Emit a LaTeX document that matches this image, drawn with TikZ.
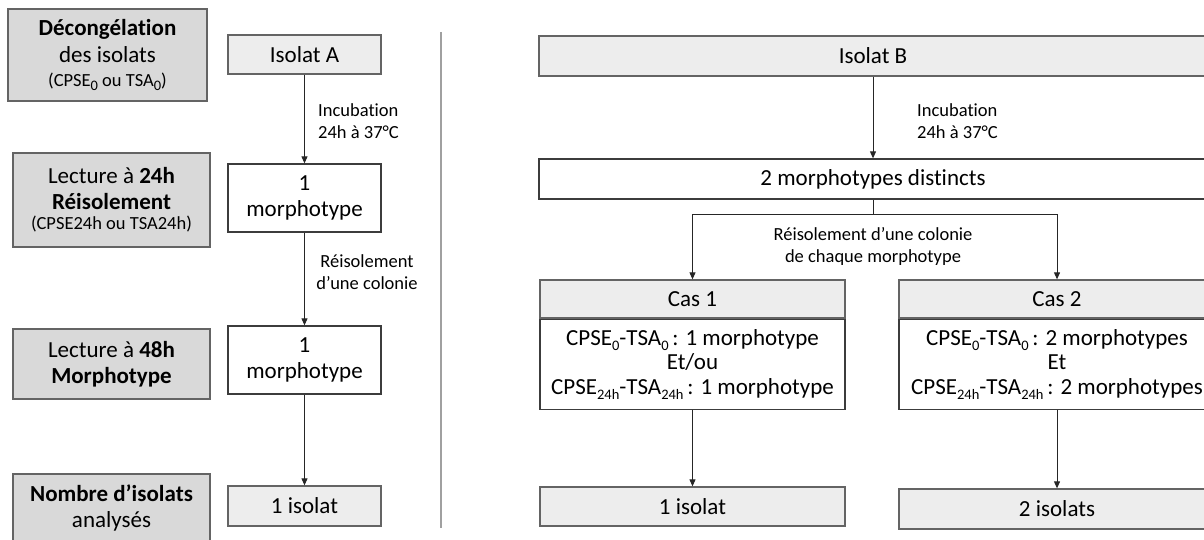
\documentclass[tikz,border=0pt]{standalone}
\usepackage{fontspec}
\setmainfont{Carlito}[Ligatures=NoCommon]
\usepackage{tikz}
\usetikzlibrary{arrows.meta,positioning}
\usepackage{xcolor}
\definecolor{stagegray}{RGB}{217,217,217}
\definecolor{boxlight}{RGB}{237,237,237}
\definecolor{edgegray}{RGB}{100,100,100}
\definecolor{edgedark}{RGB}{60,60,60}
\definecolor{rulegray}{RGB}{160,160,160}
\newcommand{\mainsize}{\fontsize{23}{26}\selectfont}
\newcommand{\notesize}{\fontsize{18.5}{22}\selectfont}
\newcommand{\lowtxt}[1]{\raisebox{-0.22em}{\fontsize{14.5}{15}\selectfont #1}}
\tikzstyle{stage} = [rectangle, minimum width=197pt, text centered, align=center, inner sep=0pt, draw=edgegray, fill=stagegray, line width=1.3pt, font=\mainsize]
\tikzstyle{result} = [rectangle, minimum height=39pt, text centered, align=center, inner sep=0pt, draw=edgegray, fill=boxlight, line width=1.3pt, font=\mainsize]
\tikzstyle{plain} = [rectangle, text centered, align=center, inner sep=0pt, draw=edgedark, fill=white, line width=1.3pt, font=\mainsize]
\tikzstyle{arrow} = [line width=1pt, ->, >={Triangle[length=7pt,width=6pt]}, draw=black!85]
\tikzstyle{note} = [inner sep=0pt, align=left, font=\notesize]

\begin{document}
\begin{tikzpicture}[x=1pt, y=-1pt]
\useasboundingbox (0,0) rectangle (1204,540);
\clip (0,0) rectangle (1204,540);

% Steps column
\node[stage, minimum width=199pt, minimum height=92pt] (thaw) at (107.5,55) {
\textbf{Décongélation}\\[1pt]
des isolats\\[-2pt]
{\notesize (CPSE\lowtxt{0} ou TSA\lowtxt{0})}
};
\node[stage, minimum height=94pt] (read24) at (111.5,200) {
Lecture à \textbf{24h}\\
\textbf{Réisolement}\\[-6pt]
{\notesize (CPSE24h ou TSA24h)}
};
\node[stage, minimum height=70pt] (read48) at (111.5,364) {
Lecture à \textbf{48h}\\
\textbf{Morphotype}
};
\node[stage, minimum height=67pt] (count) at (111.5,507.5) {
\textbf{Nombre d’isolats}\\
analysés
};

% Isolat A
\node[result, minimum width=153pt] (isoA) at (304.5,54.5) {Isolat A};
\node[plain, minimum width=153pt, minimum height=68pt] (morphA1) at (304.5,198) {1\\morphotype};
\node[plain, minimum width=153pt, minimum height=68pt] (morphA2) at (304.5,360) {1\\morphotype};
\node[result, minimum width=153pt, minimum height=40pt] (resA) at (304.5,506) {1 isolat};

\draw[arrow] (isoA) -- (morphA1);
\draw[arrow] (morphA1) -- (morphA2);
\draw[arrow] (morphA2) -- (resA);

\node[note, anchor=west] (incA) at (318,121) {Incubation\\24h à 37°C};
\node[note, align=center] (reisoA) at (367,272) {Réisolement\\d’une colonie};

% Separator
\coordinate (septop) at (441,32);
\coordinate (sepbot) at (441,528);
\draw[rulegray, line width=1.5pt] (septop) -- (sepbot);

% Isolat B
\node[result, minimum width=668pt, minimum height=40pt] (isoB) at (873,56) {Isolat B};
\node[plain, minimum width=668pt, minimum height=40pt] (morphB) at (873,179) {2 morphotypes distincts};
\draw[arrow] (isoB) -- (morphB);
\node[note, anchor=west] (incB) at (917,121) {Incubation\\24h à 37°C};

% Cas 1 / Cas 2
\node[result, minimum width=305pt, minimum height=38pt] (cas1) at (692.5,299) {Cas 1};
\node[plain, minimum width=305pt, minimum height=90pt, below=0pt of cas1, font=\fontsize{23}{24.5}\selectfont] (cas1body) {
CPSE\lowtxt{0}-TSA\lowtxt{0}\,: 1 morphotype\\
Et/ou\\
CPSE\lowtxt{24h}-TSA\lowtxt{24h}\,: 1 morphotype
};
\node[result, minimum width=316pt, minimum height=38pt] (cas2) at (1057,299) {Cas 2};
\node[plain, minimum width=316pt, minimum height=90pt, below=0pt of cas2, font=\fontsize{23}{24.5}\selectfont] (cas2body) {
CPSE\lowtxt{0}-TSA\lowtxt{0}\,: 2 morphotypes\\
Et\\
CPSE\lowtxt{24h}-TSA\lowtxt{24h}\,: 2 morphotypes
};

\coordinate (split) at (873,214);
\draw[line width=1pt, draw=black!85] (morphB) -- (split);
\draw[arrow] (split) -| (cas1);
\draw[arrow] (split) -| (cas2);
\node[note, align=center] (reisoB) at (873,246.5) {Réisolement d’une colonie\\de chaque morphotype};

\node[result, minimum width=305pt] (res1) at (692.5,506.5) {1 isolat};
\node[result, minimum width=316pt, minimum height=40pt] (res2) at (1057,509) {2 isolats};
\draw[arrow] (cas1body) -- (res1);
\draw[arrow] (cas2body) -- (res2);
\end{tikzpicture}
\end{document}
